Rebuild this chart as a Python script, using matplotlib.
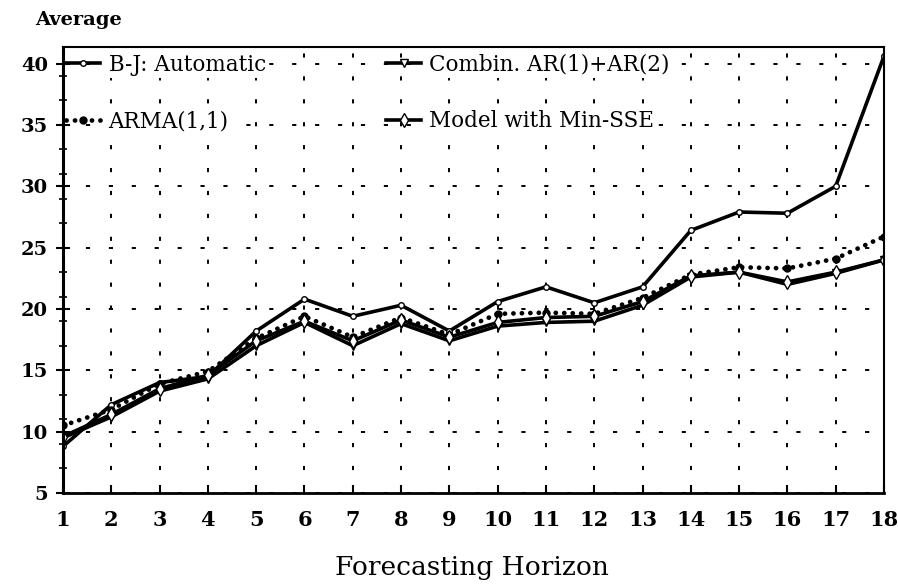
import matplotlib
matplotlib.use("Agg")
import matplotlib.pyplot as plt
import numpy as np

# ---DATA---
horizon = list(range(1, 19))
bj_auto = [8.8, 12.2, 14.0, 14.5, 18.2, 20.8, 19.4, 20.3, 18.2, 20.6,
           21.8, 20.5, 21.8, 26.4, 27.9, 27.8, 30.0, 40.6]
combin = [9.5, 11.2, 13.3, 14.3, 17.0, 18.9, 17.0, 18.8, 17.4, 18.6,
          18.9, 19.0, 20.3, 22.6, 23.0, 22.0, 22.9, 24.0]
min_sse = [9.6, 11.4, 13.5, 14.6, 17.4, 19.0, 17.4, 19.1, 17.7, 18.9,
           19.3, 19.4, 20.6, 22.7, 23.0, 22.2, 23.0, 24.0]
arma = [10.5, 11.8, 13.9, 14.9, 17.6, 19.4, 17.7, 19.3, 17.9, 19.6,
        19.7, 19.6, 20.9, 22.8, 23.4, 23.3, 24.1, 25.9]

labels = ["B-J: Automatic", "Combin. AR(1)+AR(2)", "ARMA(1,1)", "Model with Min-SSE"]
yticks = [5, 10, 15, 20, 25, 30, 35, 40]

plt.rcParams['font.family'] = ['DejaVu Serif']
plt.rcParams['lines.scale_dashes'] = False

fig = plt.figure(figsize=(8.98, 5.85), dpi=100)
ax = fig.add_axes([0.0702, 0.1573, 0.9142, 0.7624])

# grid first so the lines sit on top
ax.set_axisbelow(True)
ax.grid(True, which='major', color='black', linestyle=(0, (3, 13.5)), linewidth=1.4)

l1, = ax.plot(horizon, bj_auto, '-', color='black', lw=2.6, marker='o', ms=4,
              mfc='white', mec='black', mew=1.0, label=labels[0])
l2, = ax.plot(horizon, combin, '-', color='black', lw=2.6, marker='v', ms=6,
              mfc='white', mec='black', mew=1.0, label=labels[1])
l3, = ax.plot(horizon, arma, color='black', lw=3.4, linestyle=(0, (0.1, 6)),
              dash_capstyle='round', marker='o', ms=5, mfc='black', mec='black',
              label=labels[2])
l4, = ax.plot(horizon, min_sse, '-', color='black', lw=2.6, marker='d', ms=7,
              mfc='white', mec='black', mew=1.0, label=labels[3])

ax.set_xlim(1, 18)
ax.set_ylim(5, 41.35)
ax.set_xticks(horizon)
ax.set_yticks(yticks)
ax.set_yticks(np.arange(7, 41, 2), minor=True)
ax.tick_params(axis='x', direction='in', length=6, width=1.5, pad=12, labelsize=15)
ax.tick_params(axis='y', which='major', direction='inout', length=10, width=1.5,
               pad=6, labelsize=14)
ax.tick_params(axis='y', which='minor', direction='inout', length=6, width=1.2)
for t in ax.get_xticklabels() + ax.get_yticklabels():
    t.set_fontweight('bold')

ax.spines['left'].set_linewidth(2.2)
ax.spines['bottom'].set_linewidth(2.0)
ax.spines['top'].set_linewidth(1.5)
ax.spines['right'].set_linewidth(1.5)

# legend without frame, white patch only behind the words
leg = ax.legend(handles=[l1, l3, l2, l4], ncol=2, loc='upper left',
                bbox_to_anchor=(0.003, 0.985), frameon=False, fontsize=15.5,
                handlelength=1.6, handletextpad=0.4, columnspacing=5.6,
                labelspacing=1.6, borderpad=0.0, borderaxespad=0.0)
leg.set_zorder(2.2)
for t in leg.get_texts():
    t.set_bbox(dict(facecolor='white', edgecolor='none', pad=1.5))

fig.text(0.039, 0.965, "Average", fontsize=14, fontweight='bold', ha='left', va='center')
fig.text(0.526, 0.03, "Forecasting Horizon", fontsize=19, ha='center', va='center')

fig.savefig("out.png", dpi=100)
